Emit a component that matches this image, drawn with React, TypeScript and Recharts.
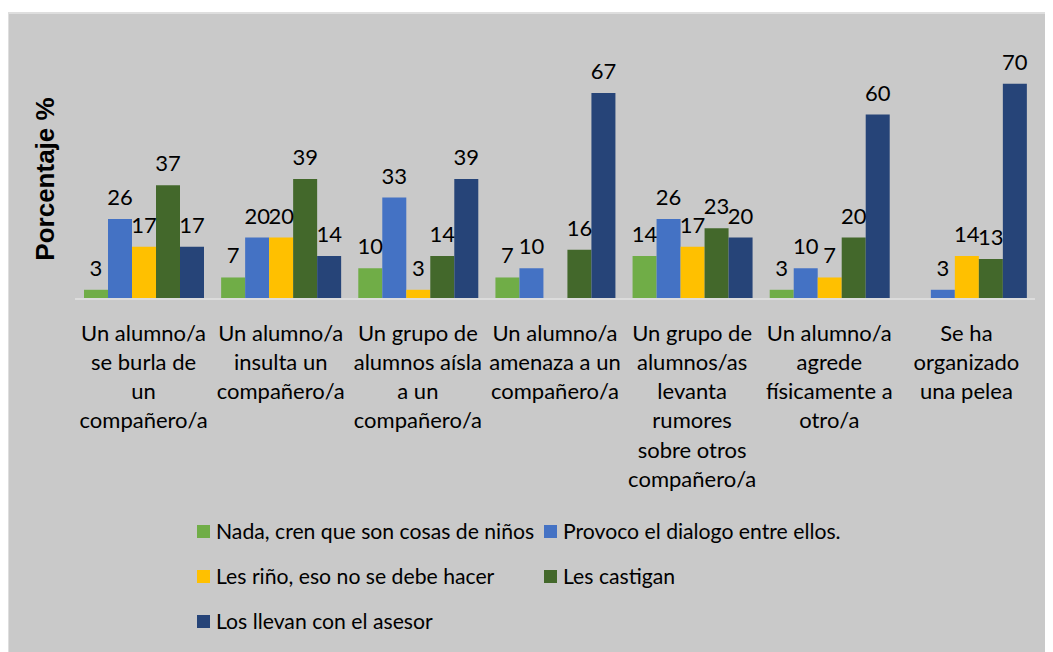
import React from 'react';
import { BarChart, Bar, XAxis, YAxis, LabelList } from 'recharts';

const categories = [
  'Un alumno/a\nse burla de\nun\ncompañero/a',
  'Un alumno/a\ninsulta un\ncompañero/a',
  'Un grupo de\nalumnos aísla\na un\ncompañero/a',
  'Un alumno/a\namenaza a un\ncompañero/a',
  'Un grupo de\nalumnos/as\nlevanta\nrumores\nsobre otros\ncompañero/a',
  'Un alumno/a\nagrede\nfísicamente a\notro/a',
  'Se ha\norganizado\nuna pelea',
];

const nada = [3, 7, 10, 7, 14, 3, null];
const provoco = [26, 20, 33, 10, 26, 10, 3];
const rino = [17, 20, 3, null, 17, 7, 14];
const castigan = [37, 39, 14, 16, 23, 20, 13];
const asesor = [17, 14, 39, 67, 20, 60, 70];

const seriesNames = [
  'Nada, cren que son cosas de niños',
  'Provoco el dialogo entre ellos.',
  'Les riño, eso no se debe hacer',
  'Les castigan',
  'Los llevan con el asesor',
];
const seriesColors = ['#70AD47', '#4472C4', '#FFC000', '#43682B', '#264478'];
const seriesKeys = ['nada', 'provoco', 'rino', 'castigan', 'asesor'];
const yAxisTitle = 'Porcentaje %';

const data = categories.map((c, i) => ({
  cat: c,
  nada: nada[i],
  provoco: provoco[i],
  rino: rino[i],
  castigan: castigan[i],
  asesor: asesor[i],
}));

const FONT = 'Lato, "Noto Sans", sans-serif';
const FS = 22;

const CatTick = (props: any) => {
  const { x, y, payload } = props;
  const lines = String(payload.value).split('\n');
  return (
    <g>
      {lines.map((l, i) => (
        <text
          key={i}
          x={x}
          y={y + 33 + i * 29.3}
          textAnchor="middle"
          dominantBaseline="central"
          fontFamily={FONT}
          fontSize={FS}
          fill="#000"
        >
          {l}
        </text>
      ))}
    </g>
  );
};

const fmt = (v: any) => (v === null || v === undefined ? '' : v);

const legendRows = [[0, 1], [2, 3], [4]];

export default function App() {
  return (
    <div
      style={{
        position: 'relative',
        marginLeft: -1,
        marginTop: 4,
        width: 1046,
        height: 640,
        background: '#c9c9c9',
      }}
    >
      <BarChart
        width={1046}
        height={640}
        data={data}
        margin={{ top: 41, right: 18, left: 68, bottom: 153 }}
        barCategoryGap={9}
        barGap={0}
      >
        <XAxis
          dataKey="cat"
          interval={0}
          tickLine={false}
          tickSize={0}
          tickMargin={0}
          height={200}
          axisLine={{ stroke: '#dcdcdc', strokeWidth: 2 }}
          tick={<CatTick />}
        />
        <YAxis
          domain={[0, 80]}
          width={0}
          tick={false}
          axisLine={false}
          tickLine={false}
        />
        {seriesKeys.map((k, i) => (
          <Bar
            key={k}
            dataKey={k}
            name={seriesNames[i]}
            fill={seriesColors[i]}
            isAnimationActive={false}
          >
            <LabelList
              dataKey={k}
              position="top"
              offset={14}
              formatter={fmt}
              fontFamily={FONT}
              fontSize={FS}
              fill="#000"
            />
          </Bar>
        ))}
      </BarChart>
      <svg
        width={80}
        height={300}
        style={{ position: 'absolute', left: 0, top: 0, pointerEvents: 'none' }}
      >
        <text
          x={38}
          y={167}
          transform="rotate(-90, 38, 167)"
          textAnchor="middle"
          dominantBaseline="central"
          fontFamily='"Liberation Sans", Arial, sans-serif'
          fontWeight="bold"
          fontSize={26}
          fill="#000"
        >
          {yAxisTitle}
        </text>
      </svg>
      {legendRows.map((row, ri) => (
        <React.Fragment key={ri}>
          {row.map((si, ci) => (
            <div
              key={si}
              style={{
                position: 'absolute',
                left: ci === 0 ? 190 : 537,
                top: 519 + ri * 45 - 12,
                height: 24,
                display: 'flex',
                alignItems: 'center',
                whiteSpace: 'nowrap',
                fontFamily: FONT,
                fontSize: 21.2,
                color: '#000',
              }}
            >
              <span
                style={{
                  display: 'inline-block',
                  width: 13,
                  height: 13,
                  background: seriesColors[si],
                  marginRight: 6,
                }}
              />
              <span>{seriesNames[si]}</span>
            </div>
          ))}
        </React.Fragment>
      ))}
      <div
        style={{
          position: 'absolute',
          left: 0,
          top: 0,
          right: -10,
          bottom: -10,
          border: '2px solid #dedede',
          pointerEvents: 'none',
        }}
      />
    </div>
  );
}
